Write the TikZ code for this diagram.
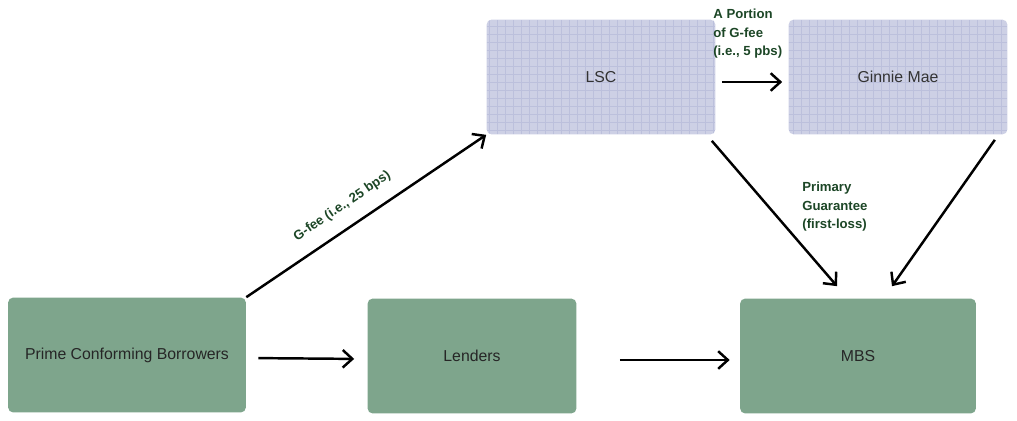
\documentclass[tikz,border=0pt]{standalone}
\usepackage{fontspec}
\setmainfont{Liberation Sans}
\usetikzlibrary{positioning,calc,arrows.meta}
\definecolor{boxgreen}{RGB}{126,165,140}
\definecolor{boxgrid}{RGB}{205,208,229}
\definecolor{gridline}{RGB}{188,192,220}
\definecolor{labelgreen}{RGB}{28,70,38}
\tikzset{%
  gnode/.style={%
    fill=boxgreen,
    rounded corners=3pt,
    minimum height=2.3cm,
    font=\fontsize{9}{11}\selectfont,
    text=black!85
  },
  pnode/.style={%
    fill=boxgrid,
    rounded corners=3pt,
    minimum height=2.3cm,
    font=\fontsize{9}{11}\selectfont,
    text=black!80,
    path picture={%
      \draw[gridline, line width=0.3pt, step=0.16cm]
        (path picture bounding box.south west) grid
        (path picture bounding box.north east);
    }
  },
  lbl/.style={%
    text=labelgreen,
    font=\bfseries\fontsize{7.5}{10.5}\selectfont,
    align=left,
    inner sep=0pt
  },
  flow/.style={%
    line width=1.4pt,
    -{Straight Barb[length=5.5pt,width=10pt,line width=1.4pt]}
  }
}

\begin{document}
\begin{tikzpicture}[x=0.02cm, y=-0.02cm]
  \useasboundingbox (0,0) rectangle (1017,420);

  \node[gnode, minimum width=4.76cm] (borrowers) at (127,355) {Prime Conforming Borrowers};
  \node[gnode, minimum width=4.18cm] (lenders) at (472,356) {Lenders};
  \node[gnode, minimum width=4.72cm] (mbs) at (858,356) {MBS};
  \node[pnode, minimum width=4.58cm] (lsc) at (601,77) {LSC};
  \node[pnode, minimum width=4.38cm] (ginnie) at (898,77) {Ginnie Mae};

  \node[lbl, anchor=north west] (portion) at (713,9) {A Portion\\of G-fee\\(i.e., 5 pbs)};
  \node[lbl, anchor=north west] (primary) at (802,182) {Primary\\Guarantee\\(first-loss)};

  \draw[flow, shorten <=0.24cm, shorten >=0.26cm] ([yshift=-0.06cm]borrowers.east) -- ([yshift=-0.06cm]lenders.west);
  \draw[flow, shorten <=0.86cm, shorten >=0.2cm] ([yshift=-0.08cm]lenders.east) -- ([yshift=-0.08cm]mbs.west);
  \draw[flow] (borrowers.north east) -- (lsc.south west)
    node[lbl, pos=0.45, above=8pt, sloped] (gfee) {G-fee (i.e., 25 bps)};
  \draw[flow, shorten <=0.12cm, shorten >=0.12cm] ([yshift=-0.1cm]lsc.east) -- ([yshift=-0.1cm]ginnie.west);
  \draw[flow] ($(lsc.south east)+(-4,6)$) -- ($(mbs.north)+(-21,-12)$);
  \draw[flow] ($(ginnie.south east)+(-13,5)$) -- ($(mbs.north)+(34,-12)$);
\end{tikzpicture}
\end{document}
